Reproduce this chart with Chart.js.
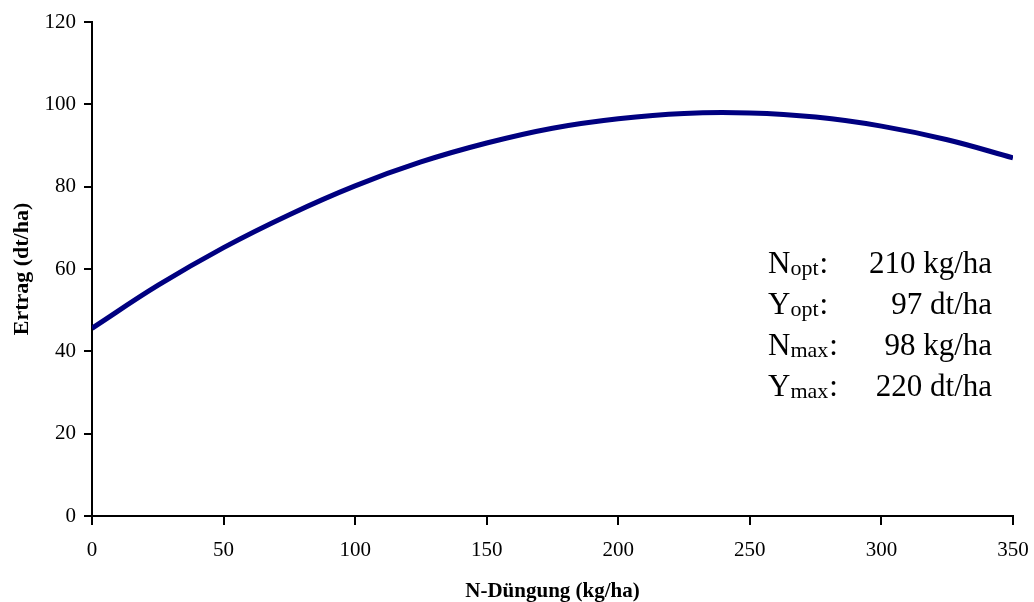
<!DOCTYPE html>
<html>
<head>
<meta charset="utf-8">
<script src="https://cdn.jsdelivr.net/npm/chart.js@4"></script>
<style>
  html, body { margin: 0; padding: 0; background: #fff; }
  #wrap { width: 1034px; height: 602px; position: relative; }
</style>
</head>
<body>
<div id="wrap"><canvas id="yieldChart"></canvas></div>
<script>
// N-Düngung (kg/ha) and Ertrag (dt/ha)
const nRates = [0, 25, 50, 75, 100, 125, 150, 175, 200, 225, 250, 275, 300, 325, 350];
const yields = [45.6, 56.0, 65.2, 73.2, 80.2, 86.0, 90.6, 94.2, 96.5, 97.8, 97.9, 96.9, 94.7, 91.4, 87.0];

const infoSymbols = ['N', 'Y', 'N', 'Y'];
const infoSubs = ['opt', 'opt', 'max', 'max'];
const infoValues = ['210 kg/ha', '97 dt/ha', '98 kg/ha', '220 dt/ha'];

const serif = '"Liberation Serif", "Times New Roman", serif';

const infoBox = {
    id: 'infoBox',
    afterDraw(chart) {
        const ctx = chart.ctx;
        const area = chart.chartArea;
        const left = area.left + 676;
        const right = area.left + 900;
        ctx.save();
        ctx.fillStyle = '#000';
        ctx.textBaseline = 'alphabetic';
        for (let i = 0; i < infoSymbols.length; i++) {
            const y = area.top + 251 + i * 41;
            ctx.textAlign = 'left';
            ctx.font = '31px ' + serif;
            ctx.fillText(infoSymbols[i], left, y);
            let x = left + ctx.measureText(infoSymbols[i]).width;
            ctx.font = '22px ' + serif;
            ctx.fillText(infoSubs[i], x, y + 2);
            x += ctx.measureText(infoSubs[i]).width + 1;
            ctx.font = '31px ' + serif;
            ctx.fillText(':', x, y);
            ctx.textAlign = 'right';
            ctx.fillText(infoValues[i], right, y);
        }
        ctx.restore();
    }
};

new Chart(document.getElementById('yieldChart'), {
    type: 'line',
    data: {
        datasets: [{
            data: nRates.map((n, i) => ({ x: n, y: yields[i] })),
            borderColor: '#000080',
            borderWidth: 5,
            pointRadius: 0,
            fill: false,
            tension: 0.4
        }]
    },
    options: {
        responsive: true,
        maintainAspectRatio: false,
        animation: false,
        layout: { padding: { left: 0, top: 22, right: 21, bottom: 0 } },
        plugins: { legend: { display: false }, tooltip: { enabled: false } },
        scales: {
            x: {
                type: 'linear',
                min: 0,
                max: 350,
                afterFit(scale) {
                    scale.height = 86;
                    scale.paddingLeft = 0;
                    scale.paddingRight = 0;
                },
                ticks: { stepSize: 50, color: '#000', padding: 13, maxRotation: 0, font: { family: serif, size: 21 } },
                grid: { drawOnChartArea: false, tickLength: 9, color: '#000', lineWidth: 2 },
                border: { color: '#000', width: 2 },
                title: {
                    display: true,
                    text: 'N-Düngung (kg/ha)',
                    color: '#000',
                    font: { family: serif, size: 21, weight: 'bold', lineHeight: 1 },
                    padding: { top: 0, bottom: 0 }
                }
            },
            y: {
                min: 0,
                max: 120,
                afterFit(scale) {
                    scale.width = 92;
                    scale.paddingTop = 0;
                    scale.paddingBottom = 0;
                },
                ticks: { stepSize: 20, color: '#000', padding: 8, font: { family: serif, size: 21 } },
                grid: { drawOnChartArea: false, tickLength: 8, color: '#000', lineWidth: 2 },
                border: { color: '#000', width: 2 },
                title: {
                    display: true,
                    text: 'Ertrag (dt/ha)',
                    color: '#000',
                    font: { family: serif, size: 22, weight: 'bold' },
                    padding: { top: 9, bottom: 4 }
                }
            }
        }
    },
    plugins: [infoBox]
});
</script>
</body>
</html>
